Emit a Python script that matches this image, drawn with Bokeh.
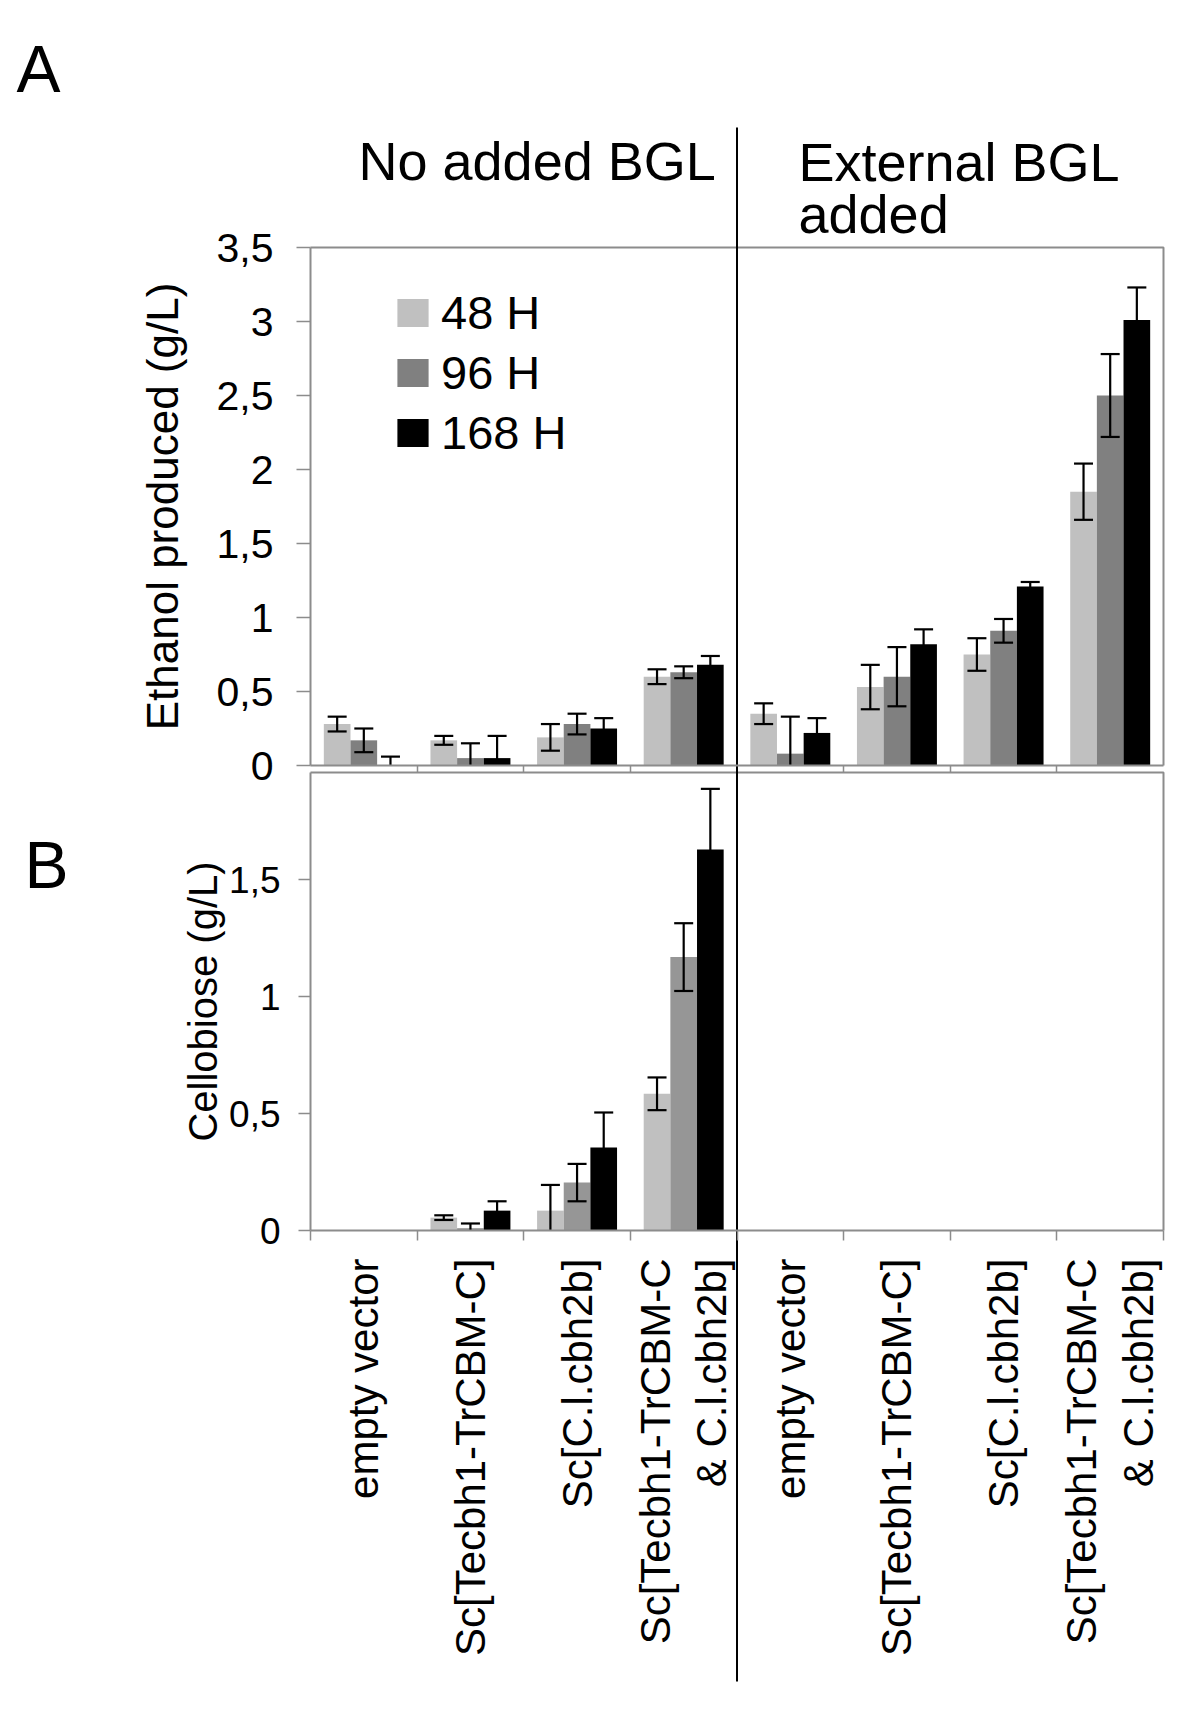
import math
from bokeh.plotting import figure
from bokeh.models import (FixedTicker, Range1d, Legend, LegendItem, Label, LinearAxis)
from bokeh.embed import file_html
from bokeh.resources import INLINE

# ---------------- data ----------------
conditions = ["No added BGL", "External BGL", "added"]
strains = ["empty vector", "Sc[Tecbh1-TrCBM-C]", "Sc[C.l.cbh2b]",
           "Sc[Tecbh1-TrCBM-C\n& C.l.cbh2b]"]
series = ["48 H", "96 H", "168 H"]

# Ethanol produced (g/L): 4 strains without BGL, then 4 strains with external BGL
ethanol_48 = [0.28, 0.17, 0.19, 0.60, 0.35, 0.53, 0.75, 1.85]
ethanol_48_err = [0.05, 0.03, 0.09, 0.05, 0.07, 0.15, 0.11, 0.19]
ethanol_96 = [0.17, 0.05, 0.28, 0.63, 0.08, 0.60, 0.91, 2.50]
ethanol_96_err = [0.08, 0.10, 0.07, 0.04, 0.25, 0.20, 0.08, 0.28]
ethanol_168 = [0.00, 0.05, 0.25, 0.68, 0.22, 0.82, 1.21, 3.01]
ethanol_168_err = [0.06, 0.15, 0.07, 0.06, 0.10, 0.10, 0.03, 0.22]

# Cellobiose (g/L): shown only for the strains without added BGL
cellobiose_48 = [0.0, 0.055, 0.085, 0.585]
cellobiose_48_err = [0.0, 0.01, 0.11, 0.07]
cellobiose_96 = [0.0, 0.01, 0.205, 1.17]
cellobiose_96_err = [0.0, 0.02, 0.08, 0.145]
cellobiose_168 = [0.0, 0.085, 0.355, 1.63]
cellobiose_168_err = [0.0, 0.04, 0.15, 0.26]

ethanol_ticks = [0, 0.5, 1, 1.5, 2, 2.5, 3, 3.5]
cellobiose_ticks = [0, 0.5, 1, 1.5]
A_MAX = 3.5
B_MAX = 1.96

# ---------------- style / layout (page pixels) ----------------
FONT = "Liberation Sans"
C48, C96A, C96B, C168 = "#c0c0c0", "#808080", "#969696", "#000000"
FRAME_C = "#8c8c8c"
W, H = 1196, 1725
PAGE0 = 0
X_LEFT, X_RIGHT = 310, 1163          # page x of category edges -0.5 and 7.5
A_ZERO, A_TOP = 765, 247             # page y of 0 and A_MAX in panel A
B_ZERO, B_TOP = 1230, 772            # page y of 0 and B_MAX in panel B
N_CAT = 8
offsets = [-0.25, 0.0, 0.25]
BAR_W = 0.25
BASE_FIX = {54: 22, 66: 23.5}        # renderer places alphabetic baseline lower

XPPU = (X_RIGHT - X_LEFT) / N_CAT
APPU = (A_ZERO - A_TOP) / A_MAX
BPPU = (B_ZERO - B_TOP) / B_MAX


def xd(px):
    return -0.5 + (px - X_LEFT) / XPPU


def ya(py):
    return (A_ZERO - py) / APPU


def yb(py):
    return (B_ZERO - py) / BPPU


p = figure(width=W, height=H, output_backend="svg", toolbar_location=None,
           x_axis_location=None, y_axis_location=None,
           x_range=Range1d(xd(PAGE0), xd(PAGE0 + W)),
           y_range=Range1d(ya(PAGE0 + H), ya(PAGE0)),
           min_border=0, min_border_left=0, min_border_right=0,
           min_border_top=0, min_border_bottom=0)
p.extra_y_ranges = {"B": Range1d(yb(PAGE0 + H), yb(PAGE0))}
p.grid.visible = False
p.outline_line_color = None
p.background_fill_color = "white"
p.border_fill_color = "white"


def y_axis(ticks, bound, rname, size, tick_out, standoff, label, label_size, label_standoff):
    ax = LinearAxis(fixed_location=-0.5, bounds=(0, bound), y_range_name=rname)
    ax.ticker = FixedTicker(ticks=ticks)
    ax.major_label_overrides = {t: (str(t).replace(".", ",") if t % 1 else str(int(t))) for t in ticks}
    ax.major_label_text_font = FONT
    ax.major_label_text_font_size = size
    ax.major_label_text_color = "black"
    ax.major_label_standoff = standoff
    ax.major_tick_out = tick_out
    ax.major_tick_in = 0
    ax.major_tick_line_color = FRAME_C
    ax.major_tick_line_width = 1.5
    ax.minor_tick_line_color = None
    ax.axis_line_color = FRAME_C
    ax.axis_line_width = 2
    ax.axis_label = label
    ax.axis_label_text_font = FONT
    ax.axis_label_text_font_size = label_size
    ax.axis_label_text_font_style = "normal"
    ax.axis_label_text_color = "black"
    ax.axis_label_standoff = label_standoff
    p.add_layout(ax, "left")
    return ax


def draw_bars(vals, colors, rname):
    rs = []
    for k, (v, c) in enumerate(zip(vals, colors)):
        xs = [i + offsets[k] for i in range(len(v))]
        rs.append(p.vbar(x=xs, top=v, bottom=0, width=BAR_W, fill_color=c,
                         line_color=None, y_range_name=rname))
    return rs


def draw_err(vals, errs, rname):
    for k, (v, e) in enumerate(zip(vals, errs)):
        x0, y0, y1, cx, cy = [], [], [], [], []
        for i, (vv, ee) in enumerate(zip(v, e)):
            if ee <= 0:
                continue
            x = i + offsets[k]
            lo, hi = vv - ee, vv + ee
            x0.append(x); y0.append(max(lo, 0)); y1.append(hi)
            cx.append(x); cy.append(hi)
            if lo > 0:
                cx.append(x); cy.append(lo)
        p.segment(x0=x0, y0=y0, x1=x0, y1=y1, line_color="black", line_width=2.2,
                  y_range_name=rname)
        p.scatter(x=cx, y=cy, marker="dash", size=19, line_color="black", line_width=2.2,
                  y_range_name=rname)


def text_label(page_x, page_baseline, text, size):
    p.add_layout(Label(x=xd(page_x), y=ya(page_baseline - BASE_FIX[size]), text=text,
                       text_font=FONT, text_font_size=f"{size}px", text_color="black",
                       text_baseline="alphabetic", text_align="left"))


# ---------------- panel A: ethanol ----------------
vals_a = [ethanol_48, ethanol_96, ethanol_168]
errs_a = [ethanol_48_err, ethanol_96_err, ethanol_168_err]
rA = draw_bars(vals_a, [C48, C96A, C168], "default")
draw_err(vals_a, errs_a, "default")
p.line(x=[-0.5, N_CAT - 0.5, N_CAT - 0.5], y=[A_MAX, A_MAX, 0], line_color=FRAME_C, line_width=2)

y_axis(ethanol_ticks, A_MAX, "default", "41px", 14, 23, "Ethanol produced (g/L)", "44px", 27)

xa = LinearAxis(fixed_location=0, bounds=(-0.5, N_CAT - 0.5))
xa.ticker = FixedTicker(ticks=[], minor_ticks=[i + 0.5 for i in range(N_CAT - 1) if i != 3])
xa.minor_tick_out = 7
xa.minor_tick_in = 0
xa.minor_tick_line_color = FRAME_C
xa.minor_tick_line_width = 1.5
xa.major_tick_line_color = None
xa.major_label_text_font_size = "0px"
xa.axis_line_color = FRAME_C
xa.axis_line_width = 2
p.add_layout(xa, "below")

legend = Legend(items=[LegendItem(label=s, renderers=[r]) for s, r in zip(series, rA)],
                location=(393, 1265), orientation="vertical",
                glyph_width=39, glyph_height=35, label_standoff=9, spacing=5,
                padding=0, margin=0, border_line_color=None, background_fill_alpha=0,
                label_text_font=FONT, label_text_font_size="47px", label_text_color="black")
p.add_layout(legend)

# ---------------- panel B: cellobiose ----------------
vals_b = [cellobiose_48, cellobiose_96, cellobiose_168]
errs_b = [cellobiose_48_err, cellobiose_96_err, cellobiose_168_err]
draw_bars(vals_b, [C48, C96B, C168], "B")
draw_err(vals_b, errs_b, "B")
p.line(x=[-0.5, N_CAT - 0.5, N_CAT - 0.5], y=[B_MAX, B_MAX, 0], line_color=FRAME_C,
       line_width=2, y_range_name="B")

y_axis(cellobiose_ticks, B_MAX, "B", "37px", 12, 18, "Cellobiose (g/L)", "40px", 1)

xb = LinearAxis(fixed_location=0, bounds=(-0.5, N_CAT - 0.5), y_range_name="B")
xb.ticker = FixedTicker(ticks=list(range(N_CAT)), minor_ticks=[i - 0.5 for i in range(N_CAT + 1)])
xb.major_label_overrides = {i: strains[i % 4] for i in range(N_CAT)}
xb.major_label_orientation = math.pi / 2
xb.major_label_text_font = FONT
xb.major_label_text_font_size = "42px"
xb.major_label_text_color = "black"
xb.major_label_standoff = 18
xb.major_tick_out = 0
xb.major_tick_in = 0
xb.major_tick_line_color = None
xb.minor_tick_out = 10
xb.minor_tick_in = 0
xb.minor_tick_line_color = FRAME_C
xb.minor_tick_line_width = 1.5
xb.axis_line_color = FRAME_C
xb.axis_line_width = 2
p.add_layout(xb, "below")

# ---------------- panel letters, headings, divider ----------------
text_label(16, 92, "A", 66)
text_label(24, 888, "B", 66)
text_label(358, 182, conditions[0], 54)
text_label(798, 183, conditions[1], 54)
text_label(798, 235, conditions[2], 54)
p.segment(x0=[N_CAT / 2 - 0.5], y0=[ya(127)], x1=[N_CAT / 2 - 0.5], y1=[ya(1681)],
          line_color="black", line_width=2)

open("out.html", "w").write(file_html(p, INLINE))
